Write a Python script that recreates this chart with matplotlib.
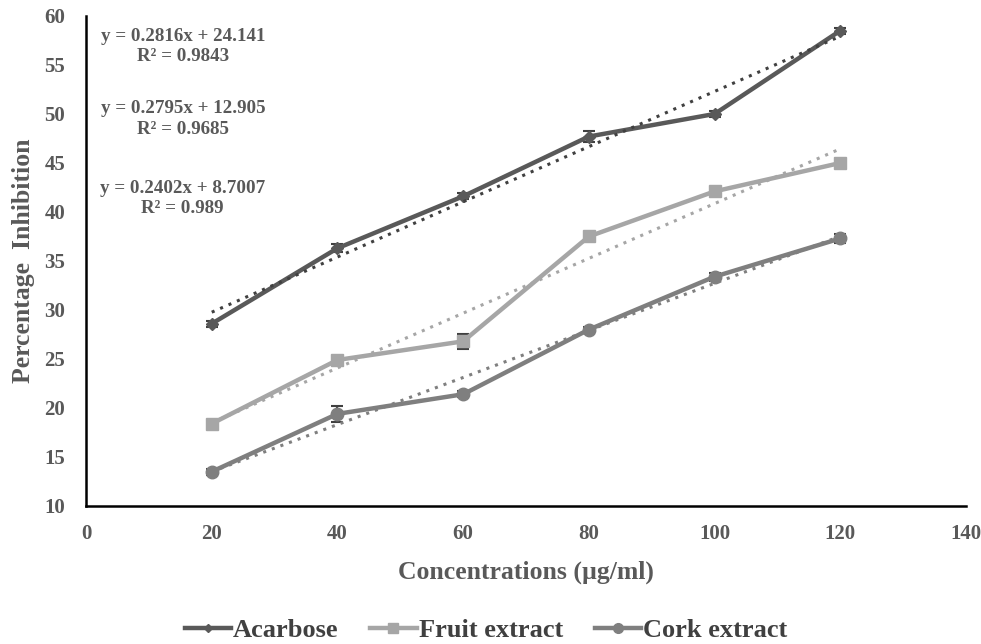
import matplotlib
matplotlib.use("Agg")
import matplotlib.pyplot as plt
from matplotlib.lines import Line2D
import numpy as np

conc = [20, 40, 60, 80, 100, 120]
acarbose = [28.6, 36.3, 41.6, 47.7, 50.0, 58.5]
acarbose_err = [0.3, 0.4, 0.3, 0.6, 0.3, 0.3]
fruit = [18.4, 24.9, 26.8, 37.5, 42.1, 45.0]
fruit_err = [0.3, 0.4, 0.8, 0.3, 0.3, 0.3]
cork = [13.5, 19.4, 21.4, 28.0, 33.4, 37.3]
cork_err = [0.3, 0.8, 0.3, 0.3, 0.4, 0.5]

slopes = [0.2816, 0.2795, 0.2402]
intercepts = [24.141, 12.905, 8.7007]
r2 = [0.9843, 0.9685, 0.989]

names = ["Acarbose", "Fruit extract", "Cork extract"]
colors = ["#595959", "#A6A6A6", "#7F7F7F"]
trend_colors = ["#404040", "#A6A6A6", "#7F7F7F"]
markers = ["D", "s", "o"]
msizes = [6, 9, 9]

plt.rcParams['font.family'] = ['Liberation Serif', 'DejaVu Serif']
plt.rcParams['font.weight'] = 'bold'

fig = plt.figure(figsize=(9.81, 6.44), dpi=100)
ax = fig.add_axes([0.0877, 0.2143, 0.897, 0.7609])

series = [acarbose, fruit, cork]
errs = [acarbose_err, fruit_err, cork_err]
handles = []
for i in range(3):
    ax.errorbar(conc, series[i], yerr=errs[i], color=colors[i], lw=3.2,
                marker=markers[i], ms=msizes[i], ecolor="#404040", elinewidth=1.5,
                capsize=4, capthick=1.5, zorder=3)
    handles.append(Line2D([], [], color=colors[i], lw=3.2, marker=markers[i],
                          ms=msizes[i] - 2, label=names[i]))
xs = np.array([conc[0], conc[-1]])
for i in range(3):
    ax.plot(xs, slopes[i] * xs + intercepts[i], ls=(0, (1, 2)), lw=2.2,
            color=trend_colors[i], zorder=4)

ax.set_xlim(0, 140)
ax.set_ylim(10, 60)
ax.set_xticks(range(0, 141, 20))
ax.set_yticks(range(10, 61, 5))
ax.tick_params(axis="y", length=0, labelsize=15, colors="#595959", pad=15)
ax.tick_params(axis="x", length=0, labelsize=15, colors="#595959", pad=13)
for s in ["top", "right"]:
    ax.spines[s].set_visible(False)
for s in ["left", "bottom"]:
    ax.spines[s].set_linewidth(1.8)
    ax.spines[s].set_color("black")

ax.set_xlabel("Concentrations (µg/ml)", fontsize=18.5, color="#595959", fontweight="bold", labelpad=12)
ax.set_ylabel("Percentage  Inhibition", fontsize=18.5, color="#595959", fontweight="bold", labelpad=7)

eq_y = [56.9, 49.5, 41.4]
eq_x = [15.5, 15.5, 15.3]
for i in range(3):
    ax.text(eq_x[i], eq_y[i], f"y = {slopes[i]}x + {intercepts[i]}\nR² = {r2[i]}",
            ha="center", va="center", fontsize=13.7, color="#595959",
            fontweight="bold", linespacing=1.25)

fig.legend(handles=handles, loc="center", bbox_to_anchor=(0.4954, 0.021), ncol=3, frameon=False,
           fontsize=19, handlelength=1.75, handletextpad=0.08, columnspacing=1.2,
           borderpad=0, labelcolor="#404040")

fig.savefig("out.png", dpi=100)
